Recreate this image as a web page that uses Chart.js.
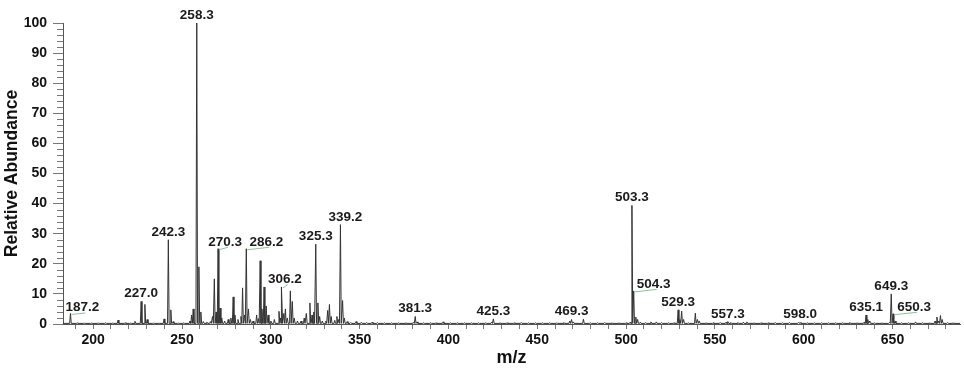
<!DOCTYPE html>
<html>
<head>
<meta charset="utf-8">
<script src="https://cdn.jsdelivr.net/npm/chart.js@4.4.1/dist/chart.umd.min.js"></script>
<style>
  html, body { margin: 0; padding: 0; background: #fff; }
  #wrap { width: 964px; height: 374px; }
</style>
</head>
<body>
<div id="wrap"><canvas id="spectrum"></canvas></div>
<script>
// labelled peaks (m/z, relative abundance)
const peakLabels = ["187.2", "227.0", "242.3", "258.3", "270.3", "286.2", "306.2", "325.3", "339.2", "381.3",
                    "425.3", "469.3", "503.3", "504.3", "529.3", "557.3", "598.0", "635.1", "649.3", "650.3"];
const peakMz = [187.2, 227.0, 242.3, 258.3, 270.3, 286.2, 306.2, 325.3, 339.2, 381.3,
                425.3, 469.3, 503.3, 504.3, 529.3, 557.3, 598.0, 635.1, 649.3, 650.3];
const peakAbund = [3.5, 7.5, 28, 100, 25, 25, 12.3, 26.5, 33, 2.5,
                   1.7, 1.5, 39.4, 11, 4.7, 0.8, 0.5, 3, 10, 3.4];

// unlabelled peaks
const minorMz = [191, 195, 199, 203, 207, 211, 214, 218, 221, 223.5, 229.1, 230.4, 234, 237, 239.9, 243.7, 245, 248,
  251, 254.5, 255.4, 256.3, 259.5, 260.6, 262, 264, 266, 267.2, 268.2, 269.2, 271.4, 272.4, 274, 276, 277.5, 278.8,
  279.8, 281.5, 283.2, 284.1, 285.2, 287.4, 288.5, 290, 292, 293, 294, 295, 296.2, 297.4, 298.5, 300, 302, 304.6,
  305.4, 307.3, 308.2, 309.3, 311, 312.1, 313.2, 315, 317, 318.8, 320, 322, 323.2, 324.2, 326.5, 327.5, 329, 331,
  332, 333, 334, 336, 337.2, 338.2, 340.4, 341.4, 343, 345, 348, 351, 354, 357, 360, 364, 368, 372, 376, 380.3,
  382.4, 386, 390, 393, 397, 401, 405, 409, 413, 417, 421, 424.3, 429, 433, 437, 441, 445, 449, 453, 457, 461, 465,
  468.3, 470.3, 476, 480, 484, 488, 492, 496, 500, 502.3, 505.5, 506.5, 508, 511, 514, 517, 520, 524, 527, 530.3,
  531.3, 532.4, 535, 539, 540.2, 541.2, 545, 549, 553, 556.3, 559, 563, 566, 568, 572, 576, 580, 584, 588, 592,
  597, 602, 606, 610, 614, 618, 622, 626, 630, 634, 636.1, 637.2, 640, 644, 648.3, 651.5, 655, 659, 663, 667,
  671, 674, 675, 676, 677, 678, 681, 684];
const minorAbund = [0.4, 0.3, 0.3, 0.3, 0.4, 0.3, 1.3, 0.4, 0.3, 0.9, 6.5, 1.5, 0.3, 0.3, 1.7, 4.7, 0.8, 0.3,
  0.4, 1.0, 3, 5, 19, 4, 0.8, 0.6, 0.8, 2.5, 15, 4, 5.3, 2, 1, 1.5, 2, 9,
  3, 1.5, 2.5, 12, 3, 5, 1.5, 1, 3, 1.8, 21, 5, 12.3, 6, 3, 1, 1.5, 4.2,
  2, 3.5, 5, 2, 11, 7.5, 2, 1, 1, 2, 3.5, 7, 3, 4, 7, 2.5, 1, 1,
  4.5, 6.5, 2.5, 1.2, 2.5, 1.5, 7.8, 2, 0.8, 0.5, 0.8, 0.6, 0.5, 0.6, 0.5, 0.4, 0.4, 0.4, 0.4, 0.6,
  0.7, 0.4, 0.4, 0.4, 0.7, 0.4, 0.4, 0.4, 0.4, 0.4, 0.4, 0.6, 0.4, 0.4, 0.4, 0.5, 0.4, 0.4, 0.4, 0.4, 0.4, 0.5,
  1.0, 0.7, 1.6, 0.4, 0.4, 0.5, 0.4, 0.4, 0.4, 0.6, 2.3, 1.5, 0.6, 0.5, 0.7, 0.7, 0.5, 0.4, 0.4, 1.5,
  4.3, 1.5, 0.4, 3.6, 1.5, 1, 0.4, 0.4, 0.5, 0.6, 0.5, 0.5, 0.6, 0.7, 0.4, 0.4, 0.4, 0.5, 0.4, 0.5,
  0.5, 0.4, 0.4, 0.4, 0.4, 0.4, 0.4, 0.5, 0.4, 0.6, 1.5, 1.0, 0.4, 0.4, 0.5, 1.0, 0.4, 0.4, 0.7, 0.4,
  0.4, 1.0, 2.3, 1.0, 2.8, 1.5, 0.5, 0.4];

const baseLevel = 0.2;
const xMin = 183, xMax = 688;
const xTickLabels = [200, 250, 300, 350, 400, 450, 500, 550, 600, 650];
const yTickLabels = [0, 10, 20, 30, 40, 50, 60, 70, 80, 90, 100];

// label placement tweaks [dx, dy] and which ones get a leader line
const labelShift = { "187.2": [12, 2], "270.3": [7, 1], "286.2": [20, 1], "306.2": [3, 0],
                     "339.2": [5, 0], "504.3": [20, 1], "650.3": [21, 1] };
const leaders = ["187.2", "270.3", "286.2", "306.2", "504.3", "650.3"];

// build the profile: each peak is a thin spike on the baseline
const allPeaks = peakMz.map((m, i) => [m, peakAbund[i]])
  .concat(minorMz.map((m, i) => [m, minorAbund[i]]))
  .sort((a, b) => a[0] - b[0]);
const profile = [{ x: xMin, y: baseLevel }];
allPeaks.forEach(([m, h]) => {
  profile.push({ x: m - 0.45, y: baseLevel }, { x: m, y: h }, { x: m + 0.45, y: baseLevel });
});
profile.push({ x: xMax, y: baseLevel });

Chart.defaults.font.family = "'Liberation Sans', Arial, sans-serif";
Chart.defaults.color = "#111";

const peakLabelPlugin = {
  id: "peakLabels",
  afterDraw(chart) {
    const { ctx, scales: { x, y }, chartArea } = chart;
    ctx.save();
    // minor y ticks
    ctx.strokeStyle = "#777";
    ctx.lineWidth = 1;
    for (let v = 0; v <= 100; v += 2) {
      if (v % 10 === 0) continue;
      const py = Math.round(y.getPixelForValue(v)) + 0.5;
      ctx.beginPath();
      ctx.moveTo(chartArea.left - 6, py);
      ctx.lineTo(chartArea.left, py);
      ctx.stroke();
    }
    // peak labels
    ctx.font = "bold 13.5px 'Liberation Sans', Arial, sans-serif";
    ctx.textAlign = "center";
    ctx.textBaseline = "alphabetic";
    peakLabels.forEach((lab, i) => {
      const px = x.getPixelForValue(peakMz[i]);
      const py = y.getPixelForValue(peakAbund[i]);
      const [dx, dy] = labelShift[lab] || [0, 0];
      const tx = px + dx, ty = py - 4 + dy;
      if (leaders.includes(lab)) {
        ctx.strokeStyle = "#8cc096";
        ctx.beginPath();
        ctx.moveTo(px + 1, py + 1);
        ctx.lineTo(tx + 3, ty + 1.5);
        ctx.stroke();
      }
      ctx.fillStyle = "#1a1a1a";
      ctx.fillText(lab, tx, ty);
    });
    ctx.restore();
  }
};

new Chart(document.getElementById("spectrum"), {
  type: "line",
  data: {
    datasets: [{
      data: profile,
      borderColor: "#333",
      borderWidth: 1,
      pointRadius: 0,
      tension: 0,
      fill: false
    }]
  },
  options: {
    responsive: true,
    maintainAspectRatio: false,
    animation: false,
    devicePixelRatio: 1,
    layout: { padding: { top: 23, right: 4, left: 0, bottom: 0 } },
    plugins: { legend: { display: false }, tooltip: { enabled: false } },
    scales: {
      x: {
        type: "linear",
        min: xMin,
        max: xMax,
        afterFit: s => { s.height = 50; },
        border: { display: true, color: "#555" },
        grid: { drawOnChartArea: false, tickLength: 5, tickColor: "#777" },
        ticks: {
          stepSize: 10,
          autoSkip: false,
          includeBounds: false,
          maxRotation: 0,
          padding: 3,
          font: { size: 14, weight: "bold" },
          callback: v => xTickLabels.includes(v) ? v : ""
        },
        title: {
          display: true,
          text: "m/z",
          font: { size: 18, weight: "bold" },
          padding: { top: 0, bottom: 5 }
        }
      },
      y: {
        min: 0,
        max: 100,
        afterFit: s => { s.width = 63; },
        border: { display: true, color: "#555" },
        grid: { drawOnChartArea: false, tickLength: 10, tickColor: "#777" },
        ticks: {
          stepSize: 10,
          padding: 6,
          font: { size: 14, weight: "bold" },
          callback: v => yTickLabels.includes(v) ? v : ""
        },
        title: {
          display: true,
          text: "Relative Abundance",
          font: { size: 17.5, weight: "bold" },
          padding: { top: 2, bottom: 0 }
        }
      }
    }
  },
  plugins: [peakLabelPlugin]
});
</script>
</body>
</html>
